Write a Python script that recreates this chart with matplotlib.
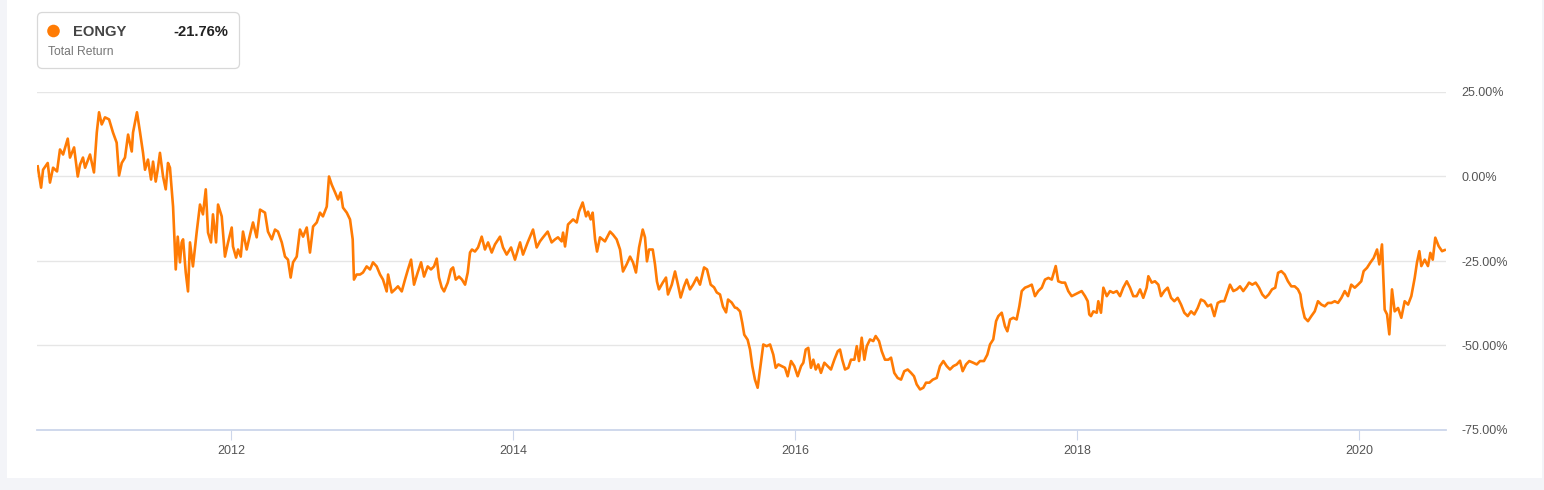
import matplotlib
matplotlib.use("Agg")
import matplotlib.pyplot as plt
from matplotlib.patches import FancyBboxPatch, Circle, Rectangle
from matplotlib.transforms import Affine2D

plt.rcParams['font.family'] = ['Liberation Sans', 'DejaVu Sans']

# ---- data (decimal year, total return %) ----
years = [
 2010.629, 2010.653, 2010.667, 2010.700, 2010.716, 2010.738, 2010.766, 2010.787, 2010.809, 2010.842,
 2010.858, 2010.887, 2010.913, 2010.929, 2010.950, 2010.965, 2011.000, 2011.028, 2011.048, 2011.064,
 2011.083, 2011.106, 2011.135, 2011.163, 2011.189, 2011.206, 2011.225, 2011.248, 2011.270, 2011.296,
 2011.305, 2011.333, 2011.355, 2011.376, 2011.390, 2011.411, 2011.433, 2011.447, 2011.466, 2011.480,
 2011.496, 2011.518, 2011.537, 2011.553, 2011.567, 2011.589, 2011.608, 2011.622, 2011.638, 2011.650,
 2011.660, 2011.679, 2011.695, 2011.709, 2011.730, 2011.757, 2011.780, 2011.801, 2011.821, 2011.837,
 2011.858, 2011.872, 2011.894, 2011.908, 2011.934, 2011.957, 2011.979, 2012.005, 2012.014, 2012.036,
 2012.050, 2012.069, 2012.085, 2012.111, 2012.135, 2012.156, 2012.182, 2012.206, 2012.241, 2012.262,
 2012.289, 2012.312, 2012.333, 2012.360, 2012.383, 2012.404, 2012.423, 2012.440, 2012.466, 2012.489,
 2012.511, 2012.537, 2012.560, 2012.582, 2012.608, 2012.631, 2012.652, 2012.679, 2012.695, 2012.714,
 2012.738, 2012.759, 2012.778, 2012.794, 2012.821, 2012.844, 2012.863, 2012.872, 2012.891, 2012.915,
 2012.936, 2012.962, 2012.986, 2013.007, 2013.033, 2013.057, 2013.078, 2013.104, 2013.114, 2013.140,
 2013.163, 2013.184, 2013.211, 2013.234, 2013.255, 2013.277, 2013.298, 2013.324, 2013.348, 2013.369,
 2013.395, 2013.418, 2013.440, 2013.459, 2013.475, 2013.494, 2013.511, 2013.537, 2013.560, 2013.575,
 2013.594, 2013.617, 2013.638, 2013.660, 2013.679, 2013.695, 2013.709, 2013.730, 2013.752, 2013.778,
 2013.801, 2013.823, 2013.849, 2013.872, 2013.908, 2013.929, 2013.955, 2013.986, 2014.014, 2014.050,
 2014.071, 2014.104, 2014.142, 2014.168, 2014.191, 2014.213, 2014.246, 2014.274, 2014.298, 2014.319,
 2014.345, 2014.355, 2014.369, 2014.390, 2014.426, 2014.452, 2014.468, 2014.494, 2014.518, 2014.532,
 2014.551, 2014.565, 2014.582, 2014.596, 2014.617, 2014.652, 2014.688, 2014.709, 2014.735, 2014.759,
 2014.780, 2014.806, 2014.830, 2014.851, 2014.872, 2014.894, 2014.920, 2014.936, 2014.950, 2014.965,
 2014.991, 2015.007, 2015.021, 2015.035, 2015.062, 2015.085, 2015.099, 2015.126, 2015.149, 2015.170,
 2015.189, 2015.213, 2015.232, 2015.255, 2015.277, 2015.303, 2015.326, 2015.355, 2015.376, 2015.402,
 2015.426, 2015.445, 2015.468, 2015.489, 2015.511, 2015.525, 2015.551, 2015.574, 2015.587, 2015.610,
 2015.626, 2015.640, 2015.664, 2015.681, 2015.697, 2015.716, 2015.735, 2015.752, 2015.775, 2015.799,
 2015.823, 2015.846, 2015.863, 2015.882, 2015.906, 2015.929, 2015.948, 2015.972, 2015.995, 2016.019,
 2016.043, 2016.059, 2016.076, 2016.094, 2016.113, 2016.130, 2016.147, 2016.165, 2016.184, 2016.208,
 2016.232, 2016.255, 2016.279, 2016.303, 2016.319, 2016.335, 2016.355, 2016.378, 2016.397, 2016.421,
 2016.438, 2016.454, 2016.473, 2016.492, 2016.509, 2016.532, 2016.555, 2016.572, 2016.596, 2016.615,
 2016.638, 2016.662, 2016.681, 2016.704, 2016.728, 2016.752, 2016.775, 2016.799, 2016.823, 2016.844,
 2016.863, 2016.887, 2016.910, 2016.929, 2016.953, 2016.977, 2017.005, 2017.028, 2017.052, 2017.076,
 2017.099, 2017.123, 2017.147, 2017.170, 2017.189, 2017.213, 2017.236, 2017.264, 2017.289, 2017.312,
 2017.340, 2017.364, 2017.383, 2017.406, 2017.426, 2017.442, 2017.466, 2017.489, 2017.506, 2017.525,
 2017.548, 2017.572, 2017.591, 2017.608, 2017.631, 2017.655, 2017.679, 2017.702, 2017.725, 2017.750,
 2017.773, 2017.797, 2017.821, 2017.849, 2017.867, 2017.892, 2017.915, 2017.938, 2017.962, 2017.986,
 2018.009, 2018.033, 2018.057, 2018.076, 2018.087, 2018.099, 2018.116, 2018.140, 2018.151, 2018.170,
 2018.187, 2018.211, 2018.234, 2018.257, 2018.282, 2018.305, 2018.328, 2018.353, 2018.376, 2018.399,
 2018.423, 2018.447, 2018.470, 2018.494, 2018.506, 2018.530, 2018.553, 2018.577, 2018.596, 2018.619,
 2018.643, 2018.667, 2018.690, 2018.714, 2018.738, 2018.761, 2018.785, 2018.809, 2018.832, 2018.856,
 2018.879, 2018.903, 2018.927, 2018.950, 2018.974, 2018.998, 2019.021, 2019.045, 2019.069, 2019.085,
 2019.109, 2019.133, 2019.156, 2019.179, 2019.204, 2019.220, 2019.243, 2019.267, 2019.291, 2019.314,
 2019.336, 2019.360, 2019.383, 2019.406, 2019.426, 2019.449, 2019.473, 2019.496, 2019.520, 2019.544,
 2019.567, 2019.584, 2019.596, 2019.615, 2019.638, 2019.662, 2019.686, 2019.709, 2019.733, 2019.757,
 2019.780, 2019.804, 2019.828, 2019.851, 2019.875, 2019.899, 2019.922, 2019.945, 2019.970, 2019.993,
 2020.016, 2020.033, 2020.057, 2020.080, 2020.104, 2020.128, 2020.144, 2020.163, 2020.182, 2020.199,
 2020.215, 2020.234, 2020.253, 2020.277, 2020.300, 2020.324, 2020.348, 2020.371, 2020.395, 2020.411,
 2020.428, 2020.442, 2020.466, 2020.489, 2020.506, 2020.523, 2020.541, 2020.565, 2020.589, 2020.608,
]

returns = [
 3.0, -3.3, 2.0, 4.0, -1.8, 2.6, 1.5, 8.0, 6.5, 11.2,
 5.6, 8.6, 0.0, 3.5, 5.6, 2.6, 6.5, 1.2, 13.0, 19.0,
 15.4, 17.5, 16.9, 13.0, 10.0, 0.3, 4.0, 5.6, 12.4, 7.4,
 13.0, 19.0, 13.0, 7.0, 2.0, 5.0, -0.9, 4.4, -1.5, 2.0,
 7.0, 0.0, -3.8, 4.0, 2.6, -8.9, -27.5, -17.8, -25.4, -19.5,
 -18.6, -28.4, -34.0, -19.5, -26.6, -16.3, -8.3, -11.2, -3.8, -16.6,
 -19.5, -11.2, -19.5, -8.3, -11.8, -23.7, -19.5, -15.1, -20.7, -24.0,
 -21.6, -23.7, -16.3, -21.6, -17.2, -13.6, -18.0, -9.8, -10.7, -16.3,
 -18.6, -15.7, -16.3, -19.5, -23.7, -24.6, -29.9, -25.4, -23.7, -15.7,
 -17.8, -15.1, -22.5, -14.8, -13.6, -10.7, -11.8, -8.9, 0.0, -2.4,
 -4.7, -6.8, -4.7, -9.2, -10.7, -12.7, -18.6, -30.5, -29.0, -29.0,
 -28.4, -26.6, -27.5, -25.4, -26.6, -29.0, -30.5, -34.0, -29.0, -34.3,
 -33.4, -32.5, -34.0, -30.5, -27.5, -24.6, -32.0, -28.4, -25.4, -29.6,
 -26.6, -27.5, -26.6, -24.3, -29.9, -32.8, -34.0, -31.4, -27.5, -26.9,
 -30.5, -29.6, -30.5, -32.0, -28.4, -22.5, -21.6, -22.2, -21.0, -17.8,
 -21.6, -19.5, -22.5, -20.1, -17.8, -21.0, -23.1, -21.0, -24.6, -19.5,
 -23.1, -19.5, -15.7, -21.0, -19.2, -18.0, -16.3, -19.5, -18.6, -18.0,
 -19.2, -16.6, -20.7, -14.2, -12.7, -13.6, -10.4, -7.7, -11.8, -10.4,
 -12.7, -10.7, -18.6, -22.2, -18.0, -19.2, -16.3, -17.2, -18.6, -21.6,
 -28.1, -26.0, -23.7, -25.4, -28.4, -21.0, -15.7, -18.0, -25.1, -21.6,
 -21.6, -26.0, -31.1, -33.4, -31.4, -29.9, -34.9, -32.0, -28.1, -32.0,
 -35.8, -32.5, -30.5, -33.4, -32.0, -29.9, -32.0, -26.9, -27.5, -32.0,
 -32.8, -34.3, -34.9, -38.5, -40.2, -36.4, -37.3, -38.8, -38.9, -39.9,
 -43.3, -46.8, -48.3, -51.2, -56.1, -60.1, -62.5, -57.1, -49.7, -50.2,
 -49.7, -52.7, -56.6, -55.6, -56.1, -56.6, -59.1, -54.6, -56.1, -59.1,
 -56.1, -55.1, -51.2, -50.7, -56.6, -54.2, -57.1, -55.6, -58.1, -55.1,
 -56.1, -57.1, -54.2, -51.7, -51.2, -54.2, -57.1, -56.6, -54.2, -54.2,
 -50.2, -54.6, -47.7, -54.2, -50.2, -48.2, -48.7, -47.2, -48.7, -51.7,
 -54.2, -54.2, -53.6, -58.1, -59.6, -60.1, -57.6, -57.1, -58.1, -59.1,
 -61.5, -63.0, -62.5, -61.0, -61.0, -60.1, -59.6, -56.1, -54.6, -56.1,
 -57.1, -56.1, -55.6, -54.5, -57.6, -55.6, -54.6, -55.1, -55.6, -54.6,
 -54.6, -52.7, -49.7, -48.2, -42.8, -41.3, -40.3, -44.3, -45.8, -42.3,
 -41.8, -42.3, -38.4, -33.9, -32.9, -32.5, -32.0, -35.4, -33.9, -32.9,
 -30.5, -30.0, -30.5, -26.5, -31.0, -31.4, -31.4, -33.9, -35.4, -34.9,
 -34.4, -33.9, -35.4, -36.9, -40.8, -41.3, -39.9, -40.3, -36.9, -40.3,
 -32.9, -35.4, -33.9, -34.4, -33.9, -35.4, -32.9, -31.0, -32.9, -35.4,
 -35.4, -33.4, -35.9, -32.9, -29.5, -31.4, -31.0, -32.0, -35.4, -33.9,
 -32.9, -35.9, -36.9, -35.9, -37.9, -40.3, -41.3, -39.9, -40.8, -38.9,
 -36.4, -36.9, -38.4, -37.9, -41.3, -37.4, -36.9, -36.9, -33.9, -32.0,
 -33.9, -33.4, -32.5, -33.9, -32.5, -31.4, -32.0, -31.4, -32.9, -34.9,
 -35.9, -34.9, -33.4, -32.9, -28.5, -28.0, -29.0, -31.0, -32.5, -32.5,
 -33.4, -34.9, -38.4, -41.8, -42.8, -41.3, -39.9, -36.9, -37.9, -38.4,
 -37.4, -37.4, -36.9, -37.4, -35.9, -33.9, -35.4, -32.0, -32.9, -32.0,
 -31.0, -28.0, -27.0, -25.5, -24.1, -21.6, -26.0, -20.1, -39.4, -40.8,
 -46.7, -33.4, -39.9, -38.9, -41.8, -36.9, -37.9, -35.4, -30.0, -25.5,
 -22.1, -26.5, -24.6, -26.5, -22.6, -24.6, -18.1, -20.6, -22.1, -21.76,
]

y_ticks = [-75, -50, -25, 0, 25]
x_ticks = [2012, 2014, 2016, 2018, 2020]
series_name = "EONGY"
series_sub = "Total Return"
final_value = "-21.76%"

# ---- figure ----
W, H = 1544, 490
fig = plt.figure(figsize=(W / 100, H / 100), dpi=100)
fig.patch.set_facecolor('#f3f4f8')
px = Affine2D().scale(1.0 / W, 1.0 / H) + fig.transFigure

def py(y):
    return H - y

# white panel (behind axes)
fig.patches.append(Rectangle((7, py(478)), 1535, 478, transform=px,
                             facecolor='white', edgecolor='none', zorder=-10))

ax = fig.add_axes([37 / W, (H - 430) / H, 1409 / W, 338 / H])
ax.set_zorder(1)
ax.set_facecolor('none')
ax.plot(years, returns, color='#ff7b04', linewidth=1.9, solid_joinstyle='round', zorder=3)

ax.set_xlim(2010.624, 2020.617)
ax.set_ylim(-75, 25)

for s in ['top', 'left', 'right']:
    ax.spines[s].set_visible(False)
ax.spines['bottom'].set_color('#ccd6eb')
ax.spines['bottom'].set_linewidth(1.3)

ax.set_yticks(y_ticks)
ax.set_yticklabels([f"{v:.2f}%" for v in y_ticks])
ax.yaxis.tick_right()
ax.tick_params(axis='y', length=0, pad=11, labelsize=9, labelcolor='#555555')
for v in y_ticks[1:]:
    ax.axhline(v, color='#e6e6e6', linewidth=1.0, zorder=1)

ax.set_xticks(x_ticks)
ax.set_xticklabels([str(t) for t in x_ticks])
ax.tick_params(axis='x', length=7.5, width=0.8, color='#ccd6eb', pad=3,
               labelsize=9, labelcolor='#555555')

# legend box
fig.patches.append(FancyBboxPatch((37.5, py(68.5)), 202, 56,
                                  boxstyle='round,pad=0,rounding_size=5',
                                  transform=px, facecolor='white',
                                  edgecolor='#d8d8d8', linewidth=0.9, zorder=5))
fig.patches.append(Circle((53.5, py(31)), 6.3, transform=px,
                          facecolor='#ff7b04', edgecolor='none', zorder=6))
fig.text(72.5 / W, py(36) / H, series_name, fontsize=10.6, fontweight='bold',
         color='#444444', ha='left', va='baseline', zorder=6)
fig.text(228.5 / W, py(36) / H, final_value, fontsize=10.6, fontweight='bold',
         color='#222222', ha='right', va='baseline', zorder=6)
fig.text(48.5 / W, py(55) / H, series_sub, fontsize=8.7,
         color='#777777', ha='left', va='baseline', zorder=6)

fig.savefig('out.png', dpi=100, facecolor=fig.get_facecolor())
